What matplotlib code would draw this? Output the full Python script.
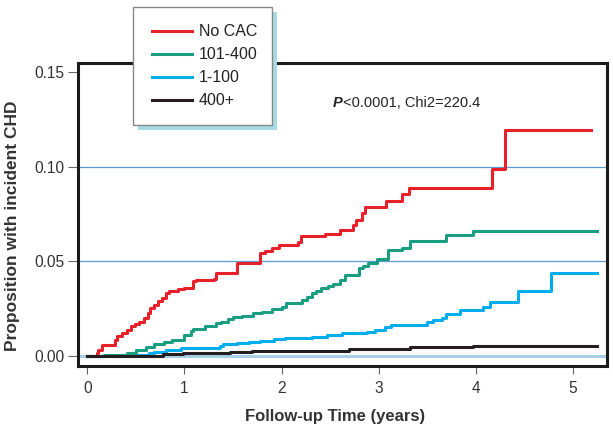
import matplotlib
matplotlib.use("Agg")
import matplotlib.pyplot as plt
from matplotlib.patches import Rectangle

plt.rcParams['font.family'] = ['Liberation Sans', 'DejaVu Sans']

# Dados (tempo em anos, proporcao acumulada)
red_t = [0, 0.097, 0.11, 0.155, 0.29, 0.31, 0.36, 0.41, 0.45, 0.49, 0.53, 0.58, 0.62, 0.65,
         0.69, 0.73, 0.77, 0.81, 0.84, 0.93, 1.0, 1.09, 1.12, 1.30, 1.33, 1.54, 1.78, 1.83,
         1.90, 1.97, 2.17, 2.20, 2.45, 2.60, 2.74, 2.77, 2.83, 2.86, 3.08, 3.24, 3.31, 4.17,
         4.30, 5.19]
red_v = [0, 0.0014, 0.0032, 0.0058, 0.0085, 0.0106, 0.012, 0.0138, 0.0159, 0.017, 0.0182,
         0.020, 0.0226, 0.0253, 0.027, 0.029, 0.0305, 0.0332, 0.0346, 0.0355, 0.036, 0.0394,
         0.040, 0.0406, 0.0441, 0.0494, 0.0544, 0.0556, 0.057, 0.0588, 0.060, 0.0632, 0.0646,
         0.0667, 0.0694, 0.072, 0.0756, 0.0788, 0.0818, 0.0855, 0.089, 0.099, 0.1192, 0.1192]

green_t = [0, 0.17, 0.41, 0.50, 0.60, 0.69, 0.79, 0.875, 1.0, 1.065, 1.09, 1.21, 1.33, 1.38,
           1.45, 1.50, 1.59, 1.71, 1.80, 1.90, 2.0, 2.05, 2.21, 2.26, 2.31, 2.35, 2.41, 2.48,
           2.53, 2.60, 2.65, 2.80, 2.84, 2.89, 2.98, 3.10, 3.24, 3.32, 3.69, 3.97, 5.25]
green_v = [0, 0.0005, 0.0018, 0.0032, 0.0049, 0.0062, 0.0076, 0.0085, 0.0111, 0.0132, 0.0141,
           0.0159, 0.0173, 0.0182, 0.0194, 0.0205, 0.021, 0.0226, 0.0235, 0.0247, 0.0261,
           0.0279, 0.0297, 0.0314, 0.0332, 0.0344, 0.0358, 0.037, 0.0381, 0.0399, 0.0429,
           0.0464, 0.0477, 0.049, 0.0512, 0.0558, 0.057, 0.0608, 0.0638, 0.0662, 0.0662]

blue_t = [0, 0.41, 0.635, 0.69, 0.81, 0.96, 1.05, 1.37, 1.40, 1.54, 1.66, 1.78, 1.92, 2.04,
          2.31, 2.47, 2.62, 2.88, 2.96, 3.07, 3.13, 3.50, 3.56, 3.65, 3.69, 3.84, 4.07, 4.15,
          4.44, 4.78, 5.25]
blue_v = [0, 0.0005, 0.0014, 0.0023, 0.0032, 0.0041, 0.0044, 0.0055, 0.0064, 0.0071, 0.0076,
          0.0081, 0.0088, 0.0095, 0.0100, 0.0111, 0.012, 0.0129, 0.0138, 0.0155, 0.0164,
          0.0178, 0.019, 0.020, 0.0222, 0.0244, 0.026, 0.0286, 0.0342, 0.0441, 0.0441]

black_t = [0, 0.78, 0.99, 1.47, 1.70, 2.29, 2.69, 3.32, 3.97, 5.25]
black_v = [0, 0.001, 0.0014, 0.0023, 0.0025, 0.0028, 0.0035, 0.0046, 0.0053, 0.0053]

labels = ["No CAC", "101-400", "1-100", "400+"]
cores = ["#e8202a", "#1a9e82", "#00aeef", "#231f20"]

W, H = 613, 433

# Figura
fig = plt.figure(figsize=(6.13, 4.33), dpi=100)
ax = fig.add_axes([78.3/W, 1-366/H, (606.5-78.3)/W, (366-62.7)/H])

# linhas de grade
ax.axhline(0.05, color="#5b9bd5", lw=0.9, zorder=1)
ax.axhline(0.10, color="#5b9bd5", lw=0.9, zorder=1)
ax.axhline(0.0, color="#a9cfe6", lw=2.2, zorder=1)

lns = []
for tt, vv, lab, c, z in zip([red_t, green_t, blue_t, black_t],
                             [red_v, green_v, blue_v, black_v], labels, cores, [4, 3, 2, 5]):
    l, = ax.step(tt, vv, where="post", color=c, lw=2.2, label=lab, zorder=z)
    lns.append(l)

ax.set_xlim(-0.093, 5.347)
ax.set_ylim(-0.0053, 0.155)
ax.set_xticks([0, 1, 2, 3, 4, 5])
ax.set_yticks([0.0, 0.05, 0.10, 0.15])
ax.set_yticklabels(["0.00", "0.05", "0.10", "0.15"])
ax.tick_params(axis="y", direction="out", length=7, width=0.8, color="#666",
               labelsize=11.2, labelcolor="#333", pad=3)
ax.tick_params(axis="x", direction="out", length=5.5, width=0.8, color="#666",
               labelsize=11.2, labelcolor="#333", pad=5)
for s in ax.spines.values():
    s.set_linewidth(2.2)
    s.set_color("#1a1a1a")

# rotulos dos eixos
fig.text(13/W, 1-226/H, "Proposition with incident CHD", rotation=90,
         ha="center", va="center", fontsize=12.5, fontweight="bold", color="#333")
fig.text(335/W, 1-416/H, "Follow-up Time (years)", ha="center", va="center",
         fontsize=12, fontweight="bold", color="#333")

# texto do P-valor
t1 = ax.text(2.53, 0.1335, "P", fontsize=10.5, fontweight="bold", style="italic",
             va="center", color="#222")
ax.annotate("<0.0001, Chi2=220.4", xy=(1, 0.5), xycoords=t1, va="center",
            fontsize=10.5, color="#222")

# caixa da legenda + sombra
fig.add_artist(Rectangle((138.3/W, 1-130/H), 138.4/W, 117.7/H, transform=fig.transFigure,
                         facecolor="#a6dbe3", edgecolor="none", zorder=4))
fig.add_artist(Rectangle((133.3/W, 1-125/H), 138.4/W, 117.7/H, transform=fig.transFigure,
                         facecolor="white", edgecolor="#888", lw=1.0, zorder=5))

leg = fig.legend(handles=lns, loc="upper left", bbox_to_anchor=(152.3/W, 1-24.5/H),
                 borderaxespad=0, borderpad=0, frameon=False,
                 fontsize=11.5, handlelength=2.5, handletextpad=0.4, labelspacing=0.5)
leg.set_zorder(6)
for txt in leg.get_texts():
    txt.set_color("#222")

fig.savefig("out.png", dpi=100)
